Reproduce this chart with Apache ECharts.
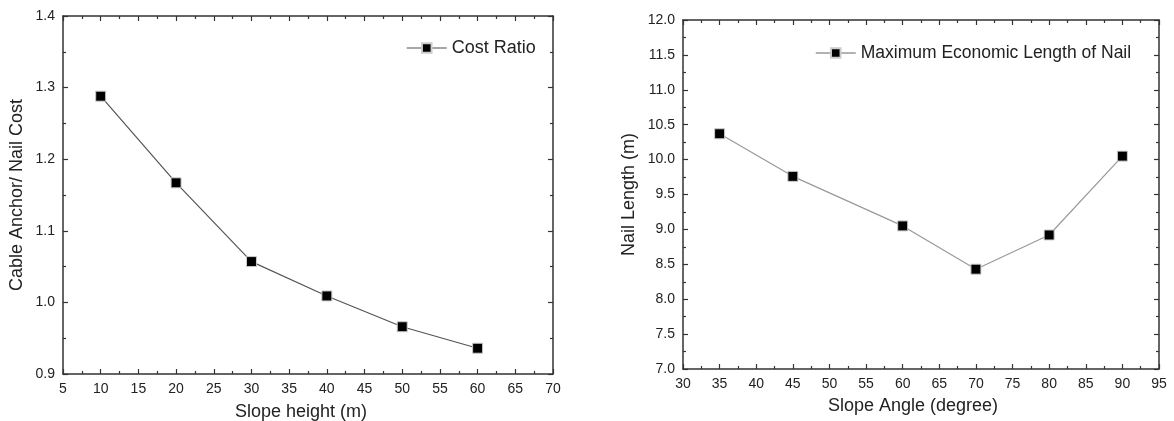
<!DOCTYPE html>
<html>
<head>
<meta charset="utf-8">
<script src="https://cdn.jsdelivr.net/npm/echarts@6/dist/echarts.min.js"></script>
<style>html,body{margin:0;padding:0;background:#fff;}#c{width:1174px;height:421px;}</style>
</head>
<body>
<div id="c"></div>
<script>
// Left chart data
const slopeHeight = [10, 20, 30, 40, 50, 60];
const costRatio = [1.288, 1.167, 1.057, 1.009, 0.966, 0.936];
// Right chart data
const slopeAngle = [35, 45, 60, 70, 80, 90];
const nailLength = [10.37, 9.76, 9.05, 8.43, 8.92, 10.05];

const FONT = 'Liberation Sans, Arial, sans-serif';
const AX = '#333';
const LBL = '#222';

function baseAxis(extra) {
  return Object.assign({
    axisLine: { show: true, onZero: false, lineStyle: { color: AX, width: 1.5 } },
    axisTick: { show: true, inside: true, length: 5, lineStyle: { color: AX, width: 1.2 } },
    minorTick: { show: true, splitNumber: 2, length: 3, lineStyle: { color: AX, width: 1.2 } },
    splitLine: { show: false },
    minorSplitLine: { show: false },
    axisLabel: { show: true, color: LBL, fontSize: 14, fontFamily: FONT, margin: 8 },
    nameTextStyle: { color: LBL, fontSize: 18, fontFamily: FONT }
  }, extra);
}
function mirror(a) {
  const m = JSON.parse(JSON.stringify(a));
  m.axisLabel = { show: false };
  delete m.name;
  return m;
}

const x0 = baseAxis({ type: 'value', gridIndex: 0, min: 5, max: 70, interval: 5, position: 'bottom',
  name: 'Slope height (m)', nameLocation: 'middle', nameGap: 29 });
x0.nameTextStyle = Object.assign({}, x0.nameTextStyle, { padding: [0, 14, 0, 0] });
const y0 = baseAxis({ type: 'value', gridIndex: 0, min: 0.9, max: 1.4, interval: 0.1, position: 'left',
  name: 'Cable Anchor/ Nail Cost', nameLocation: 'middle', nameGap: 37 });
y0.axisLabel.formatter = v => v.toFixed(1);
const x1 = baseAxis({ type: 'value', gridIndex: 1, min: 30, max: 95, interval: 5, position: 'bottom',
  name: 'Slope Angle (degree)', nameLocation: 'middle', nameGap: 28 });
x1.nameTextStyle = Object.assign({}, x1.nameTextStyle, { padding: [0, 16, 0, 0] });
const y1 = baseAxis({ type: 'value', gridIndex: 1, min: 7.0, max: 12.0, interval: 0.5, position: 'left',
  name: 'Nail Length (m)', nameLocation: 'middle', nameGap: 45 });
y1.axisLabel.formatter = v => v.toFixed(1);

const x0t = mirror(x0); x0t.position = 'top';
const y0r = mirror(y0); y0r.position = 'right';
const x1t = mirror(x1); x1t.position = 'top';
const y1r = mirror(y1); y1r.position = 'right';

const option = {
  animation: false,
  backgroundColor: '#fff',
  grid: [
    { left: 63, top: 16, width: 490, height: 358, containLabel: false, outerBoundsMode: 'none' },
    { left: 683, top: 20, width: 476, height: 349, containLabel: false, outerBoundsMode: 'none' }
  ],
  xAxis: [x0, x0t, x1, x1t],
  yAxis: [y0, y0r, y1, y1r],
  legend: [
    { data: ['Cost Ratio'], left: 406, top: 39, padding: 0, itemWidth: 40, itemHeight: 12,
      textStyle: { color: LBL, fontSize: 18, fontFamily: FONT },
      lineStyle: { color: '#888', width: 1.5 } },
    { data: ['Maximum Economic Length of Nail'], left: 815, top: 44, padding: 0, itemWidth: 40, itemHeight: 12,
      textStyle: { color: LBL, fontSize: 17.5, fontFamily: FONT },
      lineStyle: { color: '#999', width: 1.5 } }
  ],
  series: [
    { name: 'Cost Ratio', type: 'line', xAxisIndex: 0, yAxisIndex: 0,
      data: slopeHeight.map((x, i) => [x, costRatio[i]]),
      symbol: 'rect', symbolSize: 10,
      lineStyle: { color: '#555', width: 1.2 },
      itemStyle: { color: '#000', borderColor: '#ccc', borderWidth: 1 } },
    { name: 'Maximum Economic Length of Nail', type: 'line', xAxisIndex: 2, yAxisIndex: 2,
      data: slopeAngle.map((x, i) => [x, nailLength[i]]),
      symbol: 'rect', symbolSize: 10,
      lineStyle: { color: '#999', width: 1.2 },
      itemStyle: { color: '#000', borderColor: '#ccc', borderWidth: 1 } }
  ]
};
echarts.init(document.getElementById('c')).setOption(option);
</script>
</body>
</html>
